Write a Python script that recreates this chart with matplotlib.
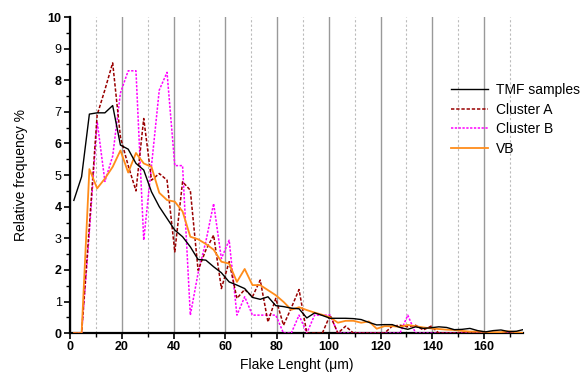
import numpy as np
import matplotlib
matplotlib.use("Agg")
import matplotlib.pyplot as plt
from matplotlib.ticker import MultipleLocator, FixedLocator

plt.rcParams['font.family'] = ['Liberation Sans', 'DejaVu Sans']

# bin centres (µm)
length_um = np.arange(1.5, 177, 3)

tmf = [4.2, 4.95, 6.93, 6.97, 6.97, 7.2, 5.95, 5.82, 5.37, 5.16,
       4.47, 4.0, 3.63, 3.26, 3.05, 2.73, 2.33, 2.31, 2.10, 1.91,
       1.62, 1.52, 1.41, 1.13, 1.07, 1.15, 0.87, 0.84, 0.79, 0.77,
       0.48, 0.64, 0.56, 0.47, 0.47, 0.47, 0.46, 0.43, 0.34, 0.26,
       0.27, 0.27, 0.18, 0.12, 0.2, 0.15, 0.17, 0.2, 0.18, 0.11,
       0.12, 0.15, 0.08, 0.04, 0.08, 0.1, 0.05, 0.06, 0.12]

cluster_a = [0, 0, 3.4, 6.9, 7.7, 8.55, 6.2, 5.3, 4.5, 6.79,
             4.84, 5.05, 4.84, 2.57, 4.79, 4.52, 1.99, 2.63, 3.1, 1.41,
             2.26, 1.1, 1.38, 1.15, 1.68, 0.35, 1.1, 0.25, 0.8, 1.38,
             0, 0, 0, 0.57, 0, 0.22, 0, 0, 0, 0,
             0, 0.22, 0.25, 0.2, 0.25, 0.1, 0.22, 0, 0, 0,
             0, 0, 0, 0, 0, 0, 0, 0, 0]

cluster_b = [0, 0, 3.2, 6.7, 4.8, 5.6, 7.6, 8.3, 8.3, 2.94,
             5.3, 7.69, 8.25, 5.3, 5.3, 0.57, 1.9, 2.9, 4.1, 2.36,
             2.94, 0.57, 1.15, 0.57, 0.57, 0.57, 0.57, 0, 0, 0.57,
             0, 0.57, 0.57, 0.57, 0, 0, 0, 0, 0, 0,
             0, 0, 0, 0.57, 0, 0, 0, 0, 0, 0,
             0, 0, 0, 0, 0, 0, 0, 0, 0]

vb = [0, 0, 5.19, 4.58, 4.89, 5.26, 5.78, 5.08, 5.7, 5.37,
      5.26, 4.44, 4.21, 4.16, 3.85, 3.05, 2.97, 2.82, 2.64, 2.26,
      2.2, 1.62, 2.03, 1.52, 1.52, 1.36, 1.2, 0.99, 0.74, 0.82,
      0.73, 0.65, 0.58, 0.5, 0.33, 0.39, 0.39, 0.33, 0.37, 0.14,
      0.22, 0.22, 0.2, 0.26, 0.22, 0.18, 0.15, 0.13, 0.11, 0.1,
      0.07, 0.05, 0.05, 0.04, 0.03, 0.03, 0.06, 0.03, 0.0]

x_major = [0, 20, 40, 60, 80, 100, 120, 140, 160]
y_major = [0, 1, 2, 3, 4, 5, 6, 7, 8, 9, 10]

fig = plt.figure(figsize=(5.83, 3.79), dpi=100)
ax = fig.add_axes([0.12, 0.121, 0.777, 0.834])

ax.plot(length_um, tmf, color='black', lw=1.0, label='TMF samples', zorder=5)
ax.plot(length_um, cluster_a, color='#990000', lw=1.1, ls=(0, (2.2, 1.2)),
        label='Cluster A', zorder=4)
ax.plot(length_um, cluster_b, color='#FF00FF', lw=1.1, ls=(0, (1.5, 1.0)),
        label='Cluster B', zorder=3)
ax.plot(length_um, vb, color='#FF8C1A', lw=1.3, label='VB', zorder=4)

ax.set_xlim(0, 175)
ax.set_ylim(0, 10)

ax.xaxis.set_major_locator(FixedLocator(x_major))
ax.xaxis.set_minor_locator(MultipleLocator(10))
ax.yaxis.set_major_locator(FixedLocator(y_major))
ax.yaxis.set_minor_locator(MultipleLocator(0.5))

ax.grid(axis='x', which='major', color='#999999', lw=1.0, ls='-')
ax.grid(axis='x', which='minor', color='#bbbbbb', lw=0.8, ls=(0, (2, 2)))
ax.set_axisbelow(True)

for s in ['top', 'right']:
    ax.spines[s].set_visible(False)
for s in ['left', 'bottom']:
    ax.spines[s].set_linewidth(1.6)

ax.tick_params(which='major', direction='out', length=4, width=1.2, labelsize=9, pad=2)
ax.tick_params(which='minor', direction='out', length=3, width=1.0)

ax.set_xticklabels([str(v) for v in x_major], fontweight='bold')
ylabels = ax.set_yticklabels([str(v) for v in y_major])
for v, t in zip(y_major, ylabels):
    t.set_fontweight('bold' if v % 2 == 0 else 'normal')

ax.set_xlabel('Flake Lenght (\u03bcm)', fontsize=10, labelpad=3)
ax.set_ylabel('Relative frequency %', fontsize=10, labelpad=14)

leg = ax.legend(loc='upper left', bbox_to_anchor=(0.83, 0.81), frameon=False,
                fontsize=10, handlelength=2.6, labelspacing=0.42,
                handletextpad=0.6, borderaxespad=0)

fig.savefig('out.png', dpi=100)
